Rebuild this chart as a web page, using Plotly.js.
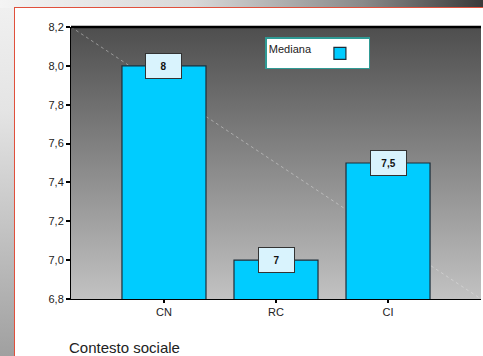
<!DOCTYPE html>
<html>
<head>
<meta charset="utf-8">
<script src="https://cdn.plot.ly/plotly-3.0.1.min.js"></script>
<style>
  html, body { margin:0; padding:0; width:483px; height:356px; overflow:hidden; }
  body { background: linear-gradient(to right, #f4f4f4 0%, #d8d8d8 40%, #8a8a8a 75%, #3a3a3a 100%); position:relative; }
  #side { position:absolute; left:0; top:8px; width:14px; height:348px;
          background: linear-gradient(to bottom, #f0f0f0 0%, #e4e4e4 30%, #bdbdbd 70%, #a0a0a0 100%); }
  #panel { position:absolute; left:14px; top:7px; width:475px; height:360px; background:#ffffff;
           border-left:1px solid #e0503c; border-top:1px solid #e0503c; box-sizing:border-box; }
  #chart { position:absolute; left:0; top:0; width:483px; height:356px; }
</style>
</head>
<body>
<div id="side"></div>
<div id="panel"></div>
<div id="chart"></div>
<script>
const categories = ['CN', 'RC', 'CI'];
const mediana = [8, 7, 7.5];
const labels = ['8', '7', '7,5'];
const yTicks = [6.8, 7.0, 7.2, 7.4, 7.6, 7.8, 8.0, 8.2];
const yTickText = ['6,8', '7,0', '7,2', '7,4', '7,6', '7,8', '8,0', '8,2'];
const seriesName = 'Mediana';
const xAxisTitle = 'Contesto sociale';

const FONT = 'Arial, Liberation Sans, sans-serif';

const gradSvg = "<svg xmlns='http://www.w3.org/2000/svg' width='10' height='100' preserveAspectRatio='none'>" +
  "<defs><linearGradient id='g' x1='0' y1='0' x2='0' y2='1'>" +
  "<stop offset='0' stop-color='#4e4e4e'/><stop offset='1' stop-color='#c2c2c2'/></linearGradient></defs>" +
  "<rect width='10' height='100' fill='url(#g)'/></svg>";
const gradUri = 'data:image/svg+xml;utf8,' + encodeURIComponent(gradSvg);

const trace = {
  type: 'bar',
  x: categories,
  y: mediana,
  name: ' ',
  width: 0.75,
  marker: { color: '#00ccff', line: { color: '#1c2c38', width: 1.2 } },
  hoverinfo: 'skip'
};

const annotations = categories.map((c, i) => ({
  x: c, y: mediana[i], xref: 'x', yref: 'y',
  text: '<b>' + labels[i] + '</b>',
  showarrow: false,
  font: { family: FONT, size: 10, color: '#111' },
  bgcolor: '#d9f3fd', bordercolor: '#333333', borderwidth: 1,
  width: 33, height: 22, align: 'center', valign: 'middle'
}));
annotations.push({
  xref: 'paper', yref: 'paper', x: -0.01, y: -0.14, xanchor: 'left', yanchor: 'top',
  text: xAxisTitle, showarrow: false,
  font: { family: FONT, size: 15, color: '#222' }
});

const layout = {
  width: 483, height: 356,
  margin: { l: 71, r: 2, t: 27, b: 57, pad: 0 },
  paper_bgcolor: 'rgba(0,0,0,0)',
  plot_bgcolor: 'rgba(0,0,0,0)',
  separators: ',.',
  showlegend: true,
  legend: {
    x: 0.474, y: 0.962, xanchor: 'left', yanchor: 'top',
    bgcolor: '#ffffff', bordercolor: '#2f9a94', borderwidth: 1.5,
    title: { text: seriesName, side: 'left', font: { family: FONT, size: 11, color: '#222' } },
    font: { family: FONT, size: 11, color: '#222' },
    itemwidth: 30, valign: 'middle'
  },
  xaxis: {
    range: [-0.83, 2.83],
    showgrid: false, zeroline: false,
    showline: true, linecolor: '#000', linewidth: 1, mirror: false,
    ticks: 'outside', ticklen: 3, tickcolor: '#000', tickwidth: 2,
    tickfont: { family: FONT, size: 11, color: '#222' },
    fixedrange: true
  },
  yaxis: {
    range: [6.8, 8.2],
    tickvals: yTicks, ticktext: yTickText,
    showgrid: false, zeroline: false,
    showline: true, linecolor: '#000', linewidth: 1,
    ticks: 'outside', ticklen: 4, tickcolor: '#000', tickwidth: 2,
    tickfont: { family: FONT, size: 11, color: '#222' },
    fixedrange: true
  },
  images: [{
    source: gradUri, xref: 'paper', yref: 'paper', x: 0, y: 1, sizex: 1, sizey: 1,
    xanchor: 'left', yanchor: 'top', sizing: 'stretch', layer: 'below'
  }],
  shapes: [
    { type: 'line', xref: 'paper', yref: 'paper', x0: 0, y0: 1, x1: 1, y1: 0, layer: 'below',
      line: { color: 'rgba(230,230,230,0.45)', width: 1, dash: 'dot' } },
    { type: 'line', xref: 'paper', yref: 'paper', x0: 0, y0: 1, x1: 1, y1: 1,
      line: { color: '#000', width: 2.5 } }
  ],
  annotations: annotations
};

Plotly.newPlot('chart', [trace], layout, { displayModeBar: false, staticPlot: true });
</script>
</body>
</html>
